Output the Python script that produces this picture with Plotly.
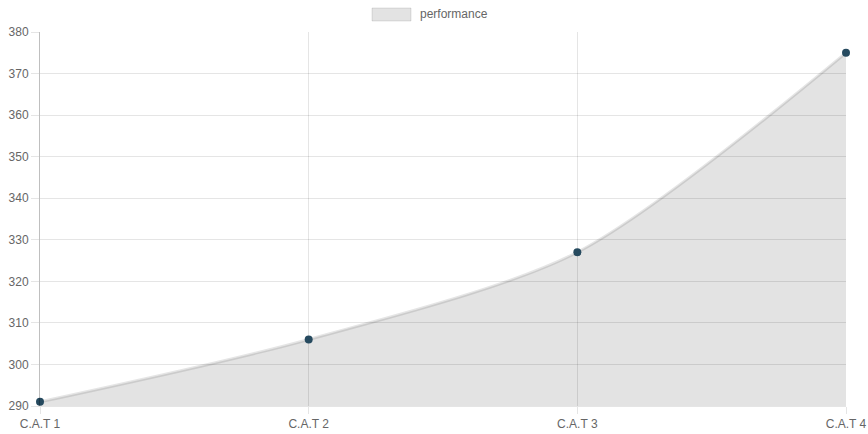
import plotly.graph_objects as go

categories = ["C.A.T 1", "C.A.T 2", "C.A.T 3", "C.A.T 4"]
performance = [291, 306, 327, 375]
y_ticks = [290, 300, 310, 320, 330, 340, 350, 360, 370, 380]

W, H = 868, 434
L, R, T, B = 40, 22, 32, 28
pw, ph = W - L - R, H - T - B

def px_x(px):
    return (px - L) / pw

def px_y(py):
    return (H - B - py) / ph

xs = list(range(len(categories)))

fig = go.Figure()
fig.add_trace(go.Scatter(
    x=xs, y=performance, mode="lines+markers",
    line=dict(shape="spline", smoothing=0.8, color="rgba(0,0,0,0.1)", width=3),
    fill="tozeroy", fillcolor="rgba(0,0,0,0.11)",
    marker=dict(size=8, color="#264a5f"),
    cliponaxis=False, showlegend=False, name="performance",
))

font = dict(family="Liberation Sans, Arial, sans-serif", size=12, color="#666")

fig.update_layout(
    width=W, height=H,
    margin=dict(l=L, r=R, t=T, b=B, autoexpand=False),
    paper_bgcolor="white", plot_bgcolor="white",
    font=font,
    xaxis=dict(
        range=[0, len(categories) - 1], tickmode="array", tickvals=xs, ticktext=categories,
        showgrid=True, gridcolor="rgba(0,0,0,0.1)", gridwidth=1,
        ticks="outside", ticklen=7, tickcolor="rgba(0,0,0,0.1)",
        showline=True, linecolor="rgba(0,0,0,0.1)", zeroline=False,
        tickfont=font, automargin=False,
    ),
    yaxis=dict(
        range=[290, 380], tickmode="array", tickvals=y_ticks,
        showgrid=True, gridcolor="rgba(0,0,0,0.1)", gridwidth=1,
        ticks="outside", ticklen=8, tickcolor="rgba(0,0,0,0.1)",
        showline=True, linecolor="rgba(0,0,0,0.25)", zeroline=False,
        tickfont=font, automargin=False,
    ),
)

# legend drawn manually (Chart.js style box)
fig.add_shape(type="rect", xref="paper", yref="paper",
              x0=px_x(372), x1=px_x(411), y0=px_y(21), y1=px_y(8),
              fillcolor="rgba(0,0,0,0.11)", line=dict(color="rgba(0,0,0,0.1)", width=1))
fig.add_annotation(xref="paper", yref="paper", x=px_x(418), y=px_y(14.5),
                   text="performance", showarrow=False, xanchor="left", yanchor="middle",
                   font=font)

fig.write_html("out.html")
